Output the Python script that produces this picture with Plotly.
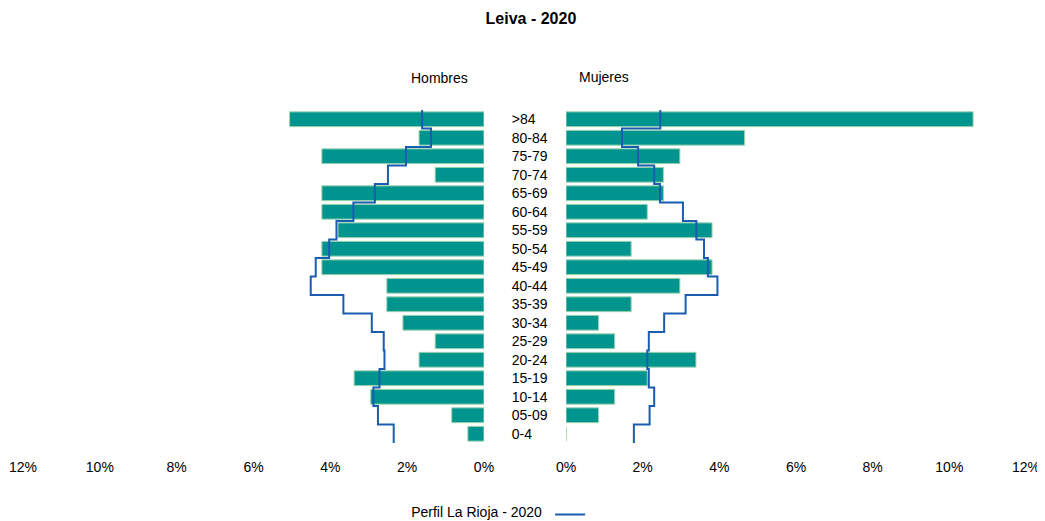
import plotly.graph_objects as go

# Age groups, top to bottom
ages = [">84", "80-84", "75-79", "70-74", "65-69", "60-64", "55-59", "50-54", "45-49",
        "40-44", "35-39", "30-34", "25-29", "20-24", "15-19", "10-14", "05-09", "0-4"]

# Leiva 2020 (% of total population)
hombres = [5.06, 1.69, 4.22, 1.27, 4.22, 4.22, 3.80, 4.22, 4.22,
           2.53, 2.53, 2.11, 1.27, 1.69, 3.38, 2.95, 0.84, 0.42]
mujeres = [10.62, 4.66, 2.97, 2.54, 2.54, 2.12, 3.81, 1.70, 3.81,
           2.97, 1.70, 0.85, 1.27, 3.39, 2.12, 1.27, 0.85, 0.00]

# Perfil La Rioja 2020 (%)
rioja_h = [1.61, 1.38, 2.03, 2.50, 2.84, 3.40, 3.84, 4.03, 4.38,
           4.51, 3.66, 2.92, 2.61, 2.59, 2.72, 2.88, 2.76, 2.35]
rioja_m = [2.46, 1.46, 1.88, 2.30, 2.45, 3.05, 3.40, 3.60, 3.70,
           3.95, 3.12, 2.56, 2.16, 2.12, 2.16, 2.30, 2.18, 1.77]

ticks_pct = [0, 2, 4, 6, 8, 10, 12]
tick_text = [f"{t}%" for t in ticks_pct]

n = len(ages)
ypos = [n - 1 - i for i in range(n)]  # >84 on top

BAR = "#00948f"
BAR_EDGE = "#9fd6ae"
LINE = "#1a5cb0"
FONT = "Arial, Liberation Sans, sans-serif"


def step(vals):
    xs, ys = [], []
    for v, y in zip(vals, ypos):
        xs += [v, v]
        ys += [y + 0.5, y - 0.5]
    return xs, ys


fig = go.Figure()

fig.add_trace(go.Bar(x=hombres, y=ypos, orientation="h", marker=dict(color=BAR, line=dict(color=BAR_EDGE, width=1)),
                     xaxis="x", yaxis="y", showlegend=False, name="Hombres"))
fig.add_trace(go.Bar(x=mujeres, y=ypos, orientation="h", marker=dict(color=BAR, line=dict(color=BAR_EDGE, width=1)),
                     xaxis="x2", yaxis="y2", showlegend=False, name="Mujeres"))

hx, hy = step(rioja_h)
mx, my = step(rioja_m)
fig.add_trace(go.Scatter(x=hx, y=hy, mode="lines", line=dict(color=LINE, width=2),
                         xaxis="x", yaxis="y", name=" ", showlegend=True))
fig.add_trace(go.Scatter(x=mx, y=my, mode="lines", line=dict(color=LINE, width=2),
                         xaxis="x2", yaxis="y2", name=" ", showlegend=False))

axis_common = dict(showgrid=False, zeroline=False, showline=False, tickvals=ticks_pct, ticktext=tick_text,
                   ticks="outside", ticklen=11, tickcolor="rgba(0,0,0,0)", automargin=False,
                   ticklabeloverflow="allow",
                   tickfont=dict(size=14, color="#000", family=FONT))

fig.update_layout(
    width=1037, height=513,
    margin=dict(l=15, r=19, t=102, b=78, autoexpand=False),
    paper_bgcolor="white", plot_bgcolor="white",
    font=dict(family=FONT, color="#000"),
    bargap=0.2,
    title=dict(text="<b>Leiva - 2020</b>", x=0.5043, xanchor="center", y=0.9805, yanchor="middle",
               font=dict(size=16, family=FONT, color="#000")),
    xaxis=dict(domain=[0, 0.4596], range=[12, 0], anchor="y", **axis_common),
    xaxis2=dict(domain=[0.5414, 1], range=[0, 12], anchor="y2", **axis_common),
    yaxis=dict(range=[-0.5, n - 0.5], tickvals=ypos, ticktext=ages, side="right", anchor="x",
               showgrid=False, zeroline=False, showline=False, automargin=False,
               ticks="outside", ticklen=24, tickcolor="rgba(0,0,0,0)",
               tickfont=dict(size=14, color="#000", family=FONT)),
    yaxis2=dict(range=[-0.5, n - 0.5], matches="y", anchor="x2", showticklabels=False, automargin=False,
                showgrid=False, zeroline=False, showline=False),
    legend=dict(orientation="h", x=0.385, xanchor="left", y=-0.216, yanchor="middle",
                title=dict(text="Perfil La Rioja - 2020", side="left", font=dict(size=14, family=FONT, color="#000")),
                font=dict(size=14, family=FONT, color="#000")),
    annotations=[
        dict(text="Hombres", x=0.4152, y=1.096, xref="paper", yref="paper", showarrow=False,
             xanchor="center", yanchor="middle", font=dict(size=14, family=FONT, color="#000")),
        dict(text="Mujeres", x=0.5793, y=1.099, xref="paper", yref="paper", showarrow=False,
             xanchor="center", yanchor="middle", font=dict(size=14, family=FONT, color="#000")),
    ],
)

fig.write_html("out.html")
